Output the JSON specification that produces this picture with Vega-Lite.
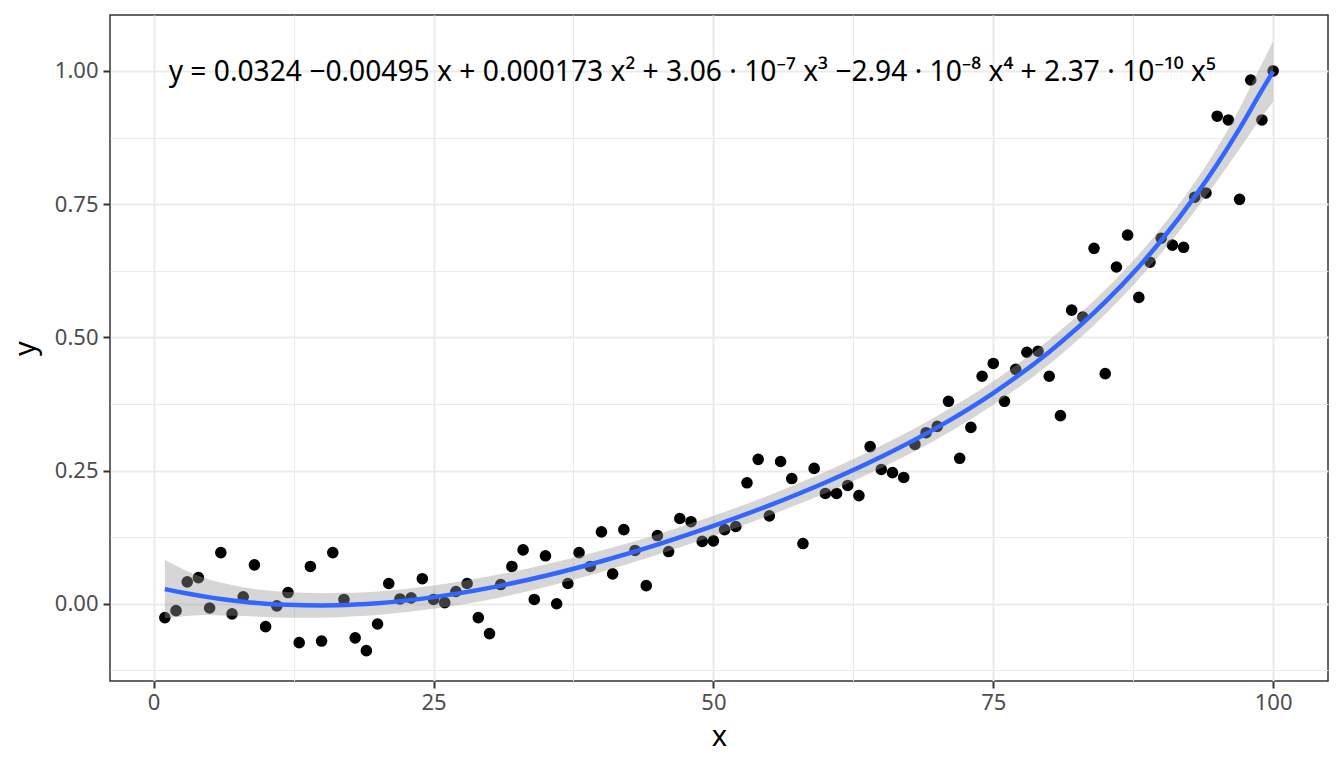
{
  "$schema": "https://vega.github.io/schema/vega-lite/v6.json",
  "width": 1218,
  "height": 666,
  "autosize": "none",
  "padding": {"left": 110, "top": 15, "right": 16, "bottom": 87},
  "background": "white",
  "datasets": {
    "points": [
      {"x": 1, "y": -0.026}, {"x": 2, "y": -0.013}, {"x": 3, "y": 0.041}, {"x": 4, "y": 0.049},
      {"x": 5, "y": -0.008}, {"x": 6, "y": 0.096}, {"x": 7, "y": -0.019}, {"x": 8, "y": 0.013},
      {"x": 9, "y": 0.073}, {"x": 10, "y": -0.043}, {"x": 11, "y": -0.004}, {"x": 12, "y": 0.021},
      {"x": 13, "y": -0.073}, {"x": 14, "y": 0.070}, {"x": 15, "y": -0.070}, {"x": 16, "y": 0.096},
      {"x": 17, "y": 0.008}, {"x": 18, "y": -0.064}, {"x": 19, "y": -0.088}, {"x": 20, "y": -0.038},
      {"x": 21, "y": 0.038}, {"x": 22, "y": 0.009}, {"x": 23, "y": 0.011}, {"x": 24, "y": 0.047},
      {"x": 25, "y": 0.008}, {"x": 26, "y": 0.002}, {"x": 27, "y": 0.023}, {"x": 28, "y": 0.038},
      {"x": 29, "y": -0.026}, {"x": 30, "y": -0.056}, {"x": 31, "y": 0.036}, {"x": 32, "y": 0.070},
      {"x": 33, "y": 0.101}, {"x": 34, "y": 0.008}, {"x": 35, "y": 0.090}, {"x": 36, "y": 0.000},
      {"x": 37, "y": 0.038}, {"x": 38, "y": 0.096}, {"x": 39, "y": 0.070}, {"x": 40, "y": 0.135},
      {"x": 41, "y": 0.056}, {"x": 42, "y": 0.139}, {"x": 43, "y": 0.100}, {"x": 44, "y": 0.034},
      {"x": 45, "y": 0.128}, {"x": 46, "y": 0.098}, {"x": 47, "y": 0.160}, {"x": 48, "y": 0.154},
      {"x": 49, "y": 0.117}, {"x": 50, "y": 0.118}, {"x": 51, "y": 0.139}, {"x": 52, "y": 0.145},
      {"x": 53, "y": 0.227}, {"x": 54, "y": 0.271}, {"x": 55, "y": 0.165}, {"x": 56, "y": 0.267},
      {"x": 57, "y": 0.235}, {"x": 58, "y": 0.113}, {"x": 59, "y": 0.254}, {"x": 60, "y": 0.207},
      {"x": 61, "y": 0.207}, {"x": 62, "y": 0.222}, {"x": 63, "y": 0.203}, {"x": 64, "y": 0.295},
      {"x": 65, "y": 0.252}, {"x": 66, "y": 0.246}, {"x": 67, "y": 0.237}, {"x": 68, "y": 0.299},
      {"x": 69, "y": 0.321}, {"x": 70, "y": 0.333}, {"x": 71, "y": 0.380}, {"x": 72, "y": 0.273},
      {"x": 73, "y": 0.331}, {"x": 74, "y": 0.427}, {"x": 75, "y": 0.451}, {"x": 76, "y": 0.380},
      {"x": 77, "y": 0.440}, {"x": 78, "y": 0.472}, {"x": 79, "y": 0.474}, {"x": 80, "y": 0.427},
      {"x": 81, "y": 0.353}, {"x": 82, "y": 0.551}, {"x": 83, "y": 0.538}, {"x": 84, "y": 0.667},
      {"x": 85, "y": 0.432}, {"x": 86, "y": 0.632}, {"x": 87, "y": 0.692}, {"x": 88, "y": 0.575},
      {"x": 89, "y": 0.641}, {"x": 90, "y": 0.686}, {"x": 91, "y": 0.673}, {"x": 92, "y": 0.669},
      {"x": 93, "y": 0.763}, {"x": 94, "y": 0.771}, {"x": 95, "y": 0.915}, {"x": 96, "y": 0.908},
      {"x": 97, "y": 0.759}, {"x": 98, "y": 0.983}, {"x": 99, "y": 0.908}, {"x": 100, "y": 1.000}
    ],
    "fit": [
      {"x": 1, "fit": 0.0276, "lower": -0.0274, "upper": 0.0826},
      {"x": 2, "fit": 0.0232, "lower": -0.0248, "upper": 0.0712},
      {"x": 3, "fit": 0.0191, "lower": -0.0229, "upper": 0.0611},
      {"x": 4, "fit": 0.0154, "lower": -0.0216, "upper": 0.0524},
      {"x": 5, "fit": 0.0120, "lower": -0.0210, "upper": 0.0450},
      {"x": 6, "fit": 0.0090, "lower": -0.0220, "upper": 0.0400},
      {"x": 8, "fit": 0.0039, "lower": -0.0231, "upper": 0.0309},
      {"x": 10, "fit": 0.0002, "lower": -0.0248, "upper": 0.0252},
      {"x": 12, "fit": -0.0021, "lower": -0.0261, "upper": 0.0219},
      {"x": 15, "fit": -0.0032, "lower": -0.0262, "upper": 0.0198},
      {"x": 18, "fit": -0.0015, "lower": -0.0235, "upper": 0.0205},
      {"x": 20, "fit": 0.0011, "lower": -0.0209, "upper": 0.0231},
      {"x": 25, "fit": 0.0124, "lower": -0.0096, "upper": 0.0344},
      {"x": 30, "fit": 0.0298, "lower": 0.0078, "upper": 0.0518},
      {"x": 35, "fit": 0.0525, "lower": 0.0315, "upper": 0.0735},
      {"x": 40, "fit": 0.0798, "lower": 0.0598, "upper": 0.0998},
      {"x": 45, "fit": 0.1110, "lower": 0.0920, "upper": 0.1300},
      {"x": 50, "fit": 0.1460, "lower": 0.1270, "upper": 0.1650},
      {"x": 55, "fit": 0.1846, "lower": 0.1656, "upper": 0.2036},
      {"x": 60, "fit": 0.2276, "lower": 0.2076, "upper": 0.2476},
      {"x": 65, "fit": 0.2758, "lower": 0.2548, "upper": 0.2968},
      {"x": 70, "fit": 0.3310, "lower": 0.3090, "upper": 0.3530},
      {"x": 75, "fit": 0.3955, "lower": 0.3735, "upper": 0.4175},
      {"x": 80, "fit": 0.4726, "lower": 0.4496, "upper": 0.4956},
      {"x": 85, "fit": 0.5664, "lower": 0.5434, "upper": 0.5894},
      {"x": 88, "fit": 0.6327, "lower": 0.6097, "upper": 0.6557},
      {"x": 90, "fit": 0.6818, "lower": 0.6578, "upper": 0.7058},
      {"x": 93, "fit": 0.7640, "lower": 0.7370, "upper": 0.7910},
      {"x": 95, "fit": 0.8250, "lower": 0.7940, "upper": 0.8560},
      {"x": 97, "fit": 0.8917, "lower": 0.8537, "upper": 0.9297},
      {"x": 99, "fit": 0.9640, "lower": 0.9140, "upper": 1.0140},
      {"x": 100, "fit": 0.9990, "lower": 0.9420, "upper": 1.0560}
    ]
  },
  "layer": [
    {
      "data": {"name": "points"},
      "mark": {"type": "circle", "size": 135, "color": "black", "opacity": 1},
      "encoding": {
        "x": {
          "field": "x", "type": "quantitative", "title": "x",
          "scale": {"domain": [-3.9, 104.9], "nice": false, "zero": false},
          "axis": {
            "values": [0, 12.5, 25, 37.5, 50, 62.5, 75, 87.5, 100],
            "labelExpr": "datum.value % 25 === 0 ? format(datum.value, 'd') : ''",
            "gridWidth": {"condition": {"test": "datum.value % 25 === 0", "value": 2}, "value": 1},
            "tickSize": {"condition": {"test": "datum.value % 25 === 0", "value": 7}, "value": 0},
            "labelPadding": 4,
            "titlePadding": 9
          }
        },
        "y": {
          "field": "y", "type": "quantitative", "title": "y",
          "scale": {"domain": [-0.145, 1.105], "nice": false, "zero": false},
          "axis": {
            "values": [-0.125, 0, 0.125, 0.25, 0.375, 0.5, 0.625, 0.75, 0.875, 1],
            "labelExpr": "abs(datum.value * 4 - round(datum.value * 4)) < 0.000001 ? format(datum.value, '.2f') : ''",
            "gridWidth": {"condition": {"test": "abs(datum.value * 4 - round(datum.value * 4)) < 0.000001", "value": 2}, "value": 1},
            "tickSize": {"condition": {"test": "abs(datum.value * 4 - round(datum.value * 4)) < 0.000001", "value": 7}, "value": 0},
            "labelPadding": 5,
            "titlePadding": 14
          }
        }
      }
    },
    {
      "data": {"name": "fit"},
      "mark": {"type": "area", "color": "#999999", "opacity": 0.4, "interpolate": "monotone"},
      "encoding": {
        "x": {"field": "x", "type": "quantitative", "title": "x"},
        "y": {"field": "lower", "type": "quantitative", "title": "y"},
        "y2": {"field": "upper"}
      }
    },
    {
      "data": {"name": "fit"},
      "mark": {"type": "line", "color": "#3366FF", "strokeWidth": 4.5, "interpolate": "monotone"},
      "encoding": {
        "x": {"field": "x", "type": "quantitative", "title": "x"},
        "y": {"field": "fit", "type": "quantitative", "title": "y"}
      }
    },
    {
      "data": {"values": [{"label": "y = 0.0324 −0.00495 x + 0.000173 x² + 3.06 · 10⁻⁷ x³ −2.94 · 10⁻⁸ x⁴ + 2.37 · 10⁻¹⁰ x⁵"}]},
      "mark": {"type": "text", "align": "left", "baseline": "alphabetic", "font": "Noto Sans", "fontSize": 28.2, "color": "black"},
      "encoding": {
        "x": {"datum": 1.34, "type": "quantitative"},
        "y": {"datum": 0.981, "type": "quantitative"},
        "text": {"field": "label"}
      }
    }
  ],
  "config": {
    "view": {"stroke": "#333333", "strokeWidth": 1.5},
    "axis": {
      "domain": false,
      "grid": true,
      "gridColor": "#EBEBEB",
      "tickColor": "#333333",
      "tickWidth": 2,
      "labelFont": "Noto Sans",
      "labelFontSize": 22,
      "labelColor": "#4D4D4D",
      "titleFont": "Noto Sans",
      "titleFontSize": 29,
      "titleFontWeight": "normal",
      "titleColor": "black"
    }
  }
}
